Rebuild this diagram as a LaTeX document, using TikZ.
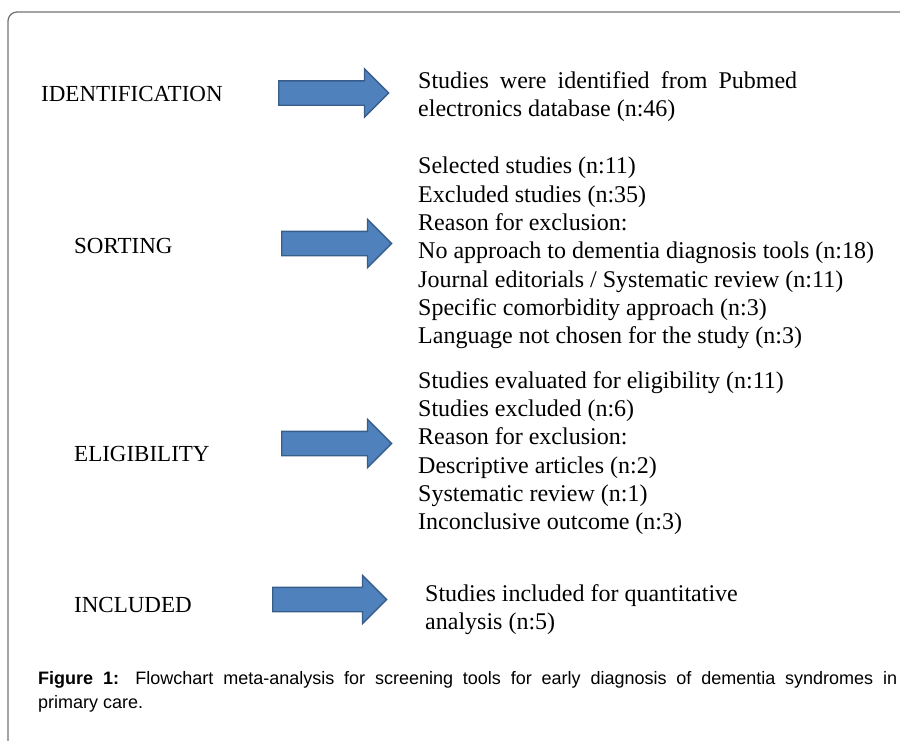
\documentclass[tikz,border=0pt]{standalone}
\usepackage{fontspec}
\setmainfont{Liberation Serif}
\newfontfamily\captionfont{Liberation Sans}
\usepackage{tikz}
\usetikzlibrary{shapes.arrows,positioning}
\definecolor{arrowfill}{RGB}{79,129,189}
\definecolor{arrowline}{RGB}{56,93,138}

\begin{document}
\begin{tikzpicture}[x=1pt,y=-1pt,
  stage/.style={anchor=base west,inner sep=0pt,font=\fontsize{23}{28}\selectfont},
  stagetext/.style={anchor=north west,inner sep=0pt,align=left,font=\fontsize{24}{28.3}\selectfont},
  bluearrow/.style={single arrow,draw=arrowline,fill=arrowfill,line width=1.3pt,
    minimum height=110pt,inner xsep=0pt,inner ysep=11.5pt,single arrow head extend=12pt,anchor=tail}]
\useasboundingbox (0,0) rectangle (900,740);
% frame
\draw[black!55,line width=1.3pt,rounded corners=9pt] (8,745) -- (8,12) -- (905,12);

% identification
\node[stage] (ident) at (41,101) {IDENTIFICATION};
\node[bluearrow] (identarrow) at (278,93) {};
\node[stagetext] (identtext) at (418,71) {\makebox[379pt][s]{Studies were identified from Pubmed}\\
  electronics database (n:46)};

% sorting
\node[stage] (sort) at (74,253) {SORTING};
\node[bluearrow] (sortarrow) at (281,243.5) {};
\node[stagetext] (sorttext) at (418,157) {Selected studies (n:11)\\
  Excluded studies (n:35)\\
  Reason for exclusion:\\
  No approach to dementia diagnosis tools (n:18)\\
  Journal editorials / Systematic review (n:11)\\
  Specific comorbidity approach (n:3)\\
  Language not chosen for the study (n:3)};

% eligibility
\node[stage] (elig) at (74,461) {ELIGIBILITY};
\node[bluearrow] (eligarrow) at (281,443.5) {};
\node[stagetext] (eligtext) at (418,371) {Studies evaluated for eligibility (n:11)\\
  Studies excluded (n:6)\\
  Reason for exclusion:\\
  Descriptive articles (n:2)\\
  Systematic review (n:1)\\
  Inconclusive outcome (n:3)};

% included
\node[stage] (incl) at (74,612) {INCLUDED};
\node[bluearrow,minimum height=114pt] (inclarrow) at (272,599.5) {};
\node[stagetext] (incltext) at (425,584) {Studies included for quantitative\\
  analysis (n:5)};

% caption
\node[anchor=north west,inner sep=0pt,text width=859pt,align=justify,
  font=\captionfont\fontsize{18}{24.5}\selectfont] (caption) at (38,671)
  {\textbf{Figure 1:} Flowchart meta-analysis for screening tools for early diagnosis of dementia syndromes in\linebreak primary care.};
\end{tikzpicture}
\end{document}
